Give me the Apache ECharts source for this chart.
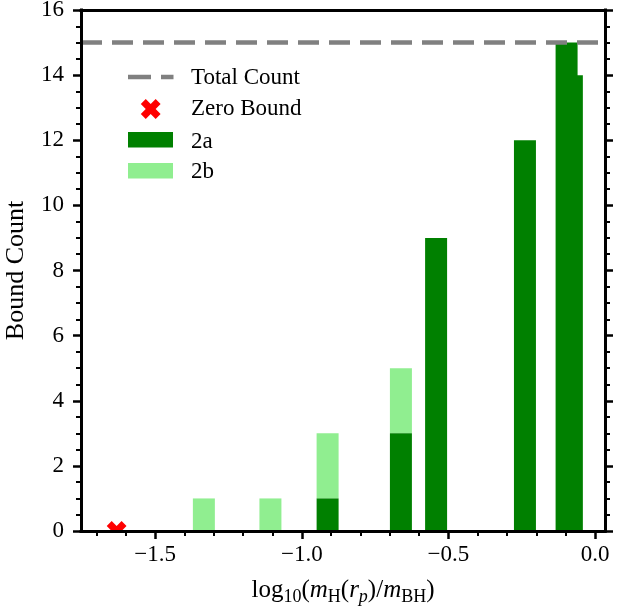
<!DOCTYPE html>
<html>
<head>
<meta charset="utf-8">
<script src="https://cdn.jsdelivr.net/npm/echarts@6/dist/echarts.min.js"></script>
<style>
html,body{margin:0;padding:0;background:#fff;}
#chart{width:617px;height:613px;}
</style>
</head>
<body>
<div id="chart"></div>
<script>
// ---- data ----
const x2a = [-0.912, -0.662, -0.542, -0.239, -0.097, -0.079];
const count2a = [1, 3, 9, 12, 15, 14];
const x2b = [-1.334, -1.107, -0.912, -0.662];
const count2b = [1, 1, 2, 2]; // stacked on top of 2a at same position
const zeroBoundX = [-1.6315];
const zeroBoundY = [0];
const totalCount = 15;
const xMajorTicks = [-1.5, -1.0, -0.5, 0.0];
const xMinorTicks = [-1.7, -1.6, -1.4, -1.3, -1.2, -1.1, -0.9, -0.8, -0.7, -0.6, -0.4, -0.3, -0.2, -0.1];

// ---- styling ----
const FONT = 'Liberation Serif';
const DARK = '#008000';
const LIGHT = '#90ee90';
const BAR_W = 0.075;
const XMIN = -1.753, XMAX = 0.034;

function fmt(v){ return Number(v).toFixed(1).replace('-', '\u2212'); }

const data2a = x2a.map((x, i) => [x, 0, count2a[i]]);
const data2b = x2b.map((x, i) => {
  const j = x2a.indexOf(x);
  const base = j >= 0 ? count2a[j] : 0;
  return [x, base, base + count2b[i]];
});

function barRenderer(color){
  return function(params, api){
    const x = api.value(0), y0 = api.value(1), y1 = api.value(2);
    const p0 = api.coord([x - BAR_W/2, y1]);
    const p1 = api.coord([x + BAR_W/2, y0]);
    return {type:'rect', shape:{x:p0[0], y:p0[1], width:p1[0]-p0[0], height:p1[1]-p0[1]}, style:{fill:color}};
  };
}

function xPoints(cx, cy, size){
  const a = size/2/Math.SQRT2*1.5*0.943, w = a/3;
  const pts = [[-w,a],[w,a],[w,w],[a,w],[a,-w],[w,-w],[w,-a],[-w,-a],[-w,-w],[-a,-w],[-a,w],[-w,w]];
  const c = Math.SQRT1_2;
  return pts.map(([u,v]) => [cx + (u - v)*c, cy + (u + v)*c]);
}

const axisLineStyle = {color:'#000', width:3, cap:'square'};
const majorTick = {show:true, length:8, lineStyle:{color:'#000', width:2.5}};

const option = {
  animation:false,
  backgroundColor:'#fff',
  grid:{left:81, right:12, top:10, bottom:82, containLabel:false, outerBoundsMode:'none'},
  xAxis:[
    {type:'value', min:XMIN, max:XMAX, position:'bottom', z:5,
     axisLine:{show:true, onZero:false, lineStyle:axisLineStyle},
     axisTick:Object.assign({customValues:xMajorTicks}, majorTick),
     axisLabel:{customValues:xMajorTicks, formatter:fmt, color:'#000', fontFamily:FONT, fontSize:23, margin:12},
     splitLine:{show:false},
     name:'{n|log}{s|10}{n|(}{i|m}{s|H}{n|(}{i|r}{si|p}{n|)/}{i|m}{s|BH}{n|)}',
     nameLocation:'middle', nameGap:44,
     nameTextStyle:{color:'#000', fontFamily:FONT, fontSize:25,
       rich:{
         n:{fontFamily:FONT, fontSize:25, lineHeight:31, color:'#000'},
         i:{fontFamily:FONT, fontSize:25, lineHeight:31, fontStyle:'italic', color:'#000'},
         s:{fontFamily:FONT, fontSize:18, lineHeight:18, verticalAlign:'bottom', color:'#000'},
         si:{fontFamily:FONT, fontSize:18, lineHeight:18, verticalAlign:'bottom', fontStyle:'italic', color:'#000'}
       }}
    },
    {type:'value', min:XMIN, max:XMAX, position:'bottom', z:5,
     axisLine:{show:false}, axisLabel:{show:false}, splitLine:{show:false},
     axisTick:{show:true, customValues:xMinorTicks, length:5, lineStyle:{color:'#000', width:2}}
    },
    {type:'value', min:XMIN, max:XMAX, position:'top', z:5,
     axisLine:{show:true, onZero:false, lineStyle:axisLineStyle},
     axisTick:{show:false}, axisLabel:{show:false}, splitLine:{show:false}
    }
  ],
  yAxis:[
    {type:'value', min:0, max:16, interval:2, position:'left', z:5,
     axisLine:{show:true, onZero:false, lineStyle:axisLineStyle},
     axisTick:majorTick,
     minorTick:{show:true, splitNumber:4, length:5, lineStyle:{color:'#000', width:2}},
     axisLabel:{color:'#000', fontFamily:FONT, fontSize:23, margin:17},
     splitLine:{show:false}, minorSplitLine:{show:false},
     name:'Bound Count', nameLocation:'middle', nameGap:52,
     nameTextStyle:{color:'#000', fontFamily:FONT, fontSize:26}
    },
    {type:'value', min:0, max:16, interval:2, position:'right', z:5,
     axisLine:{show:true, onZero:false, lineStyle:axisLineStyle},
     axisTick:majorTick,
     minorTick:{show:true, splitNumber:4, length:5, lineStyle:{color:'#000', width:2}},
     axisLabel:{show:false},
     splitLine:{show:false}, minorSplitLine:{show:false}
    }
  ],
  series:[
    {name:'2b', type:'custom', xAxisIndex:0, yAxisIndex:0, clip:true, z:2,
     renderItem:barRenderer(LIGHT), data:data2b, encode:{x:0, y:[1,2]}},
    {name:'2a', type:'custom', xAxisIndex:0, yAxisIndex:0, clip:true, z:3,
     renderItem:barRenderer(DARK), data:data2a, encode:{x:0, y:[1,2]}},
    {name:'Zero Bound', type:'custom', xAxisIndex:0, yAxisIndex:0, clip:true, z:4,
     data:zeroBoundX.map((x,i)=>[x, zeroBoundY[i]]), encode:{x:0, y:1},
     renderItem:function(params, api){
       const p = api.coord([api.value(0), api.value(1)]);
       return {type:'polygon', shape:{points:xPoints(p[0], p[1], 21)}, style:{fill:'#ff0000'}};
     }},
    {name:'Total Count', type:'line', xAxisIndex:0, yAxisIndex:0, data:[], z:3,
     markLine:{silent:true, symbol:'none', animation:false,
       label:{show:false},
       lineStyle:{color:'#808080', width:4.5, type:[21,10]},
       emphasis:{disabled:true},
       data:[{yAxis:totalCount}]}}
  ],
  graphic:[
    {type:'line', shape:{x1:128, y1:77, x2:173.5, y2:77}, style:{stroke:'#808080', lineWidth:4.5, lineDash:[23,10]}, z:10},
    {type:'text', left:191, top:66, style:{text:'Total Count', font:'23px "Liberation Serif"', fill:'#000'}, z:10},
    {type:'polygon', shape:{points:xPoints(150.7, 109, 21)}, style:{fill:'#ff0000'}, z:10},
    {type:'text', left:191, top:97, style:{text:'Zero Bound', font:'23px "Liberation Serif"', fill:'#000'}, z:10},
    {type:'rect', shape:{x:128, y:132, width:45, height:15.5}, style:{fill:DARK}, z:10},
    {type:'text', left:191, top:130, style:{text:'2a', font:'23px "Liberation Serif"', fill:'#000'}, z:10},
    {type:'rect', shape:{x:128, y:163, width:45, height:15.5}, style:{fill:LIGHT}, z:10},
    {type:'text', left:191, top:160, style:{text:'2b', font:'23px "Liberation Serif"', fill:'#000'}, z:10}
  ]
};

const chart = echarts.init(document.getElementById('chart'), null, {renderer:'canvas'});
chart.setOption(option);
</script>
</body>
</html>
